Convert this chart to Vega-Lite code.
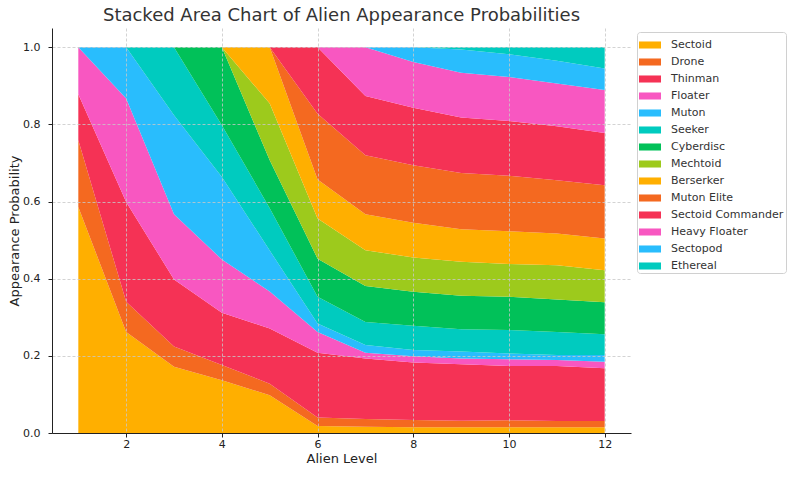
{
  "$schema": "https://vega.github.io/schema/vega-lite/v6.json",
  "width": 579,
  "height": 405,
  "autosize": {"type": "none"},
  "padding": {"left": 52, "top": 28, "right": 169, "bottom": 44},
  "background": "white",
  "config": {"font": "DejaVu Sans", "view": {"stroke": null}},
  "title": {
    "text": "Stacked Area Chart of Alien Appearance Probabilities",
    "fontSize": 18,
    "fontWeight": "normal",
    "font": "DejaVu Sans",
    "color": "#333333",
    "anchor": "middle",
    "offset": 3
  },
  "datasets": {
    "wide": [
      {"level": 1, "Sectoid": 0.586, "Drone": 0.173, "Thinman": 0.119, "Floater": 0.122, "Muton": 0, "Seeker": 0, "Cyberdisc": 0, "Mechtoid": 0, "Berserker": 0, "Muton Elite": 0, "Sectoid Commander": 0, "Heavy Floater": 0, "Sectopod": 0, "Ethereal": 0},
      {"level": 2, "Sectoid": 0.262, "Drone": 0.078, "Thinman": 0.259, "Floater": 0.268, "Muton": 0.133, "Seeker": 0, "Cyberdisc": 0, "Mechtoid": 0, "Berserker": 0, "Muton Elite": 0, "Sectoid Commander": 0, "Heavy Floater": 0, "Sectopod": 0, "Ethereal": 0},
      {"level": 3, "Sectoid": 0.172, "Drone": 0.052, "Thinman": 0.174, "Floater": 0.169, "Muton": 0.257, "Seeker": 0.176, "Cyberdisc": 0, "Mechtoid": 0, "Berserker": 0, "Muton Elite": 0, "Sectoid Commander": 0, "Heavy Floater": 0, "Sectopod": 0, "Ethereal": 0},
      {"level": 4, "Sectoid": 0.137, "Drone": 0.039, "Thinman": 0.136, "Floater": 0.138, "Muton": 0.214, "Seeker": 0.134, "Cyberdisc": 0.202, "Mechtoid": 0, "Berserker": 0, "Muton Elite": 0, "Sectoid Commander": 0, "Heavy Floater": 0, "Sectopod": 0, "Ethereal": 0},
      {"level": 5, "Sectoid": 0.098, "Drone": 0.030, "Thinman": 0.143, "Floater": 0.096, "Muton": 0.106, "Seeker": 0.110, "Cyberdisc": 0.124, "Mechtoid": 0.147, "Berserker": 0.146, "Muton Elite": 0, "Sectoid Commander": 0, "Heavy Floater": 0, "Sectopod": 0, "Ethereal": 0},
      {"level": 6, "Sectoid": 0.018, "Drone": 0.022, "Thinman": 0.168, "Floater": 0.054, "Muton": 0.022, "Seeker": 0.069, "Cyberdisc": 0.099, "Mechtoid": 0.104, "Berserker": 0.101, "Muton Elite": 0.171, "Sectoid Commander": 0.172, "Heavy Floater": 0, "Sectopod": 0, "Ethereal": 0},
      {"level": 7, "Sectoid": 0.016, "Drone": 0.020, "Thinman": 0.157, "Floater": 0.015, "Muton": 0.020, "Seeker": 0.060, "Cyberdisc": 0.093, "Mechtoid": 0.093, "Berserker": 0.093, "Muton Elite": 0.153, "Sectoid Commander": 0.154, "Heavy Floater": 0.126, "Sectopod": 0, "Ethereal": 0},
      {"level": 8, "Sectoid": 0.015, "Drone": 0.019, "Thinman": 0.149, "Floater": 0.016, "Muton": 0.016, "Seeker": 0.063, "Cyberdisc": 0.088, "Mechtoid": 0.089, "Berserker": 0.090, "Muton Elite": 0.149, "Sectoid Commander": 0.149, "Heavy Floater": 0.119, "Sectopod": 0.038, "Ethereal": 0},
      {"level": 9, "Sectoid": 0.015, "Drone": 0.017, "Thinman": 0.146, "Floater": 0.015, "Muton": 0.018, "Seeker": 0.058, "Cyberdisc": 0.087, "Mechtoid": 0.088, "Berserker": 0.084, "Muton Elite": 0.146, "Sectoid Commander": 0.144, "Heavy Floater": 0.116, "Sectopod": 0.060, "Ethereal": 0.006},
      {"level": 10, "Sectoid": 0.015, "Drone": 0.018, "Thinman": 0.141, "Floater": 0.017, "Muton": 0.015, "Seeker": 0.061, "Cyberdisc": 0.086, "Mechtoid": 0.085, "Berserker": 0.085, "Muton Elite": 0.144, "Sectoid Commander": 0.142, "Heavy Floater": 0.114, "Sectopod": 0.059, "Ethereal": 0.018},
      {"level": 11, "Sectoid": 0.015, "Drone": 0.016, "Thinman": 0.143, "Floater": 0.015, "Muton": 0.013, "Seeker": 0.060, "Cyberdisc": 0.084, "Mechtoid": 0.089, "Berserker": 0.082, "Muton Elite": 0.138, "Sectoid Commander": 0.140, "Heavy Floater": 0.111, "Sectopod": 0.059, "Ethereal": 0.035},
      {"level": 12, "Sectoid": 0.015, "Drone": 0.016, "Thinman": 0.137, "Floater": 0.017, "Muton": 0.017, "Seeker": 0.054, "Cyberdisc": 0.083, "Mechtoid": 0.083, "Berserker": 0.082, "Muton Elite": 0.138, "Sectoid Commander": 0.136, "Heavy Floater": 0.111, "Sectopod": 0.056, "Ethereal": 0.055}
    ],
    "stackorder": [
      {"alien": "Sectoid", "k": 1},
      {"alien": "Drone", "k": 2},
      {"alien": "Thinman", "k": 3},
      {"alien": "Floater", "k": 4},
      {"alien": "Muton", "k": 5},
      {"alien": "Seeker", "k": 6},
      {"alien": "Cyberdisc", "k": 7},
      {"alien": "Mechtoid", "k": 8},
      {"alien": "Berserker", "k": 9},
      {"alien": "Muton Elite", "k": 10},
      {"alien": "Sectoid Commander", "k": 11},
      {"alien": "Heavy Floater", "k": 12},
      {"alien": "Sectopod", "k": 13},
      {"alien": "Ethereal", "k": 14}
    ]
  },
  "data": {"name": "wide"},
  "transform": [
    {"fold": ["Sectoid", "Drone", "Thinman", "Floater", "Muton", "Seeker", "Cyberdisc", "Mechtoid", "Berserker", "Muton Elite", "Sectoid Commander", "Heavy Floater", "Sectopod", "Ethereal"], "as": ["alien", "p"]},
    {"lookup": "alien", "from": {"data": {"name": "stackorder"}, "key": "alien", "fields": ["k"]}}
  ],
  "mark": {"type": "area", "interpolate": "linear"},
  "encoding": {
    "x": {
      "field": "level",
      "type": "quantitative",
      "scale": {"domain": [0.45, 12.55], "nice": false, "zero": false},
      "axis": {
        "title": "Alien Level",
        "values": [2, 4, 6, 8, 10, 12],
        "format": "d",
        "labelFontSize": 11,
        "titleFontSize": 13,
        "titleFontWeight": "normal",
        "labelColor": "#222222",
        "titleColor": "#222222",
        "tickSize": 4,
        "tickColor": "#222222",
        "domainColor": "#222222",
        "labelPadding": 1,
        "titlePadding": 3,
        "grid": true,
        "gridColor": "#c8c8c8",
        "gridDash": [3, 2],
        "gridWidth": 0.8,
        "zindex": 1
      }
    },
    "y": {
      "field": "p",
      "type": "quantitative",
      "stack": "zero",
      "scale": {"domain": [0, 1.05], "nice": false},
      "axis": {
        "title": "Appearance Probability",
        "values": [0, 0.2, 0.4, 0.6, 0.8, 1.0],
        "format": ".1f",
        "labelFontSize": 11,
        "titleFontSize": 13,
        "titleFontWeight": "normal",
        "labelColor": "#222222",
        "titleColor": "#222222",
        "tickSize": 4,
        "tickColor": "#222222",
        "domainColor": "#222222",
        "labelPadding": 8,
        "titlePadding": 1,
        "grid": true,
        "gridColor": "#c8c8c8",
        "gridDash": [3, 2],
        "gridWidth": 0.8,
        "zindex": 1
      }
    },
    "color": {
      "field": "alien",
      "type": "nominal",
      "scale": {
        "domain": ["Sectoid", "Drone", "Thinman", "Floater", "Muton", "Seeker", "Cyberdisc", "Mechtoid", "Berserker", "Muton Elite", "Sectoid Commander", "Heavy Floater", "Sectopod", "Ethereal"],
        "range": ["#FFAF00", "#F46920", "#F53255", "#F857C1", "#29BDFD", "#00CBBF", "#01C159", "#9DCA1C", "#FFAF00", "#F46920", "#F53255", "#F857C1", "#29BDFD", "#00CBBF"]
      },
      "legend": {
        "orient": "none",
        "legendX": 585,
        "legendY": 4,
        "title": null,
        "labelFontSize": 11,
        "labelColor": "#333333",
        "symbolType": "M-1,-0.32H1V0.32H-1Z",
        "symbolSize": 484,
        "symbolStrokeWidth": 0,
        "symbolOpacity": 1,
        "rowPadding": 1,
        "padding": 2,
        "labelOffset": 10,
        "strokeColor": "#d0d0d0",
        "fillColor": "white",
        "cornerRadius": 3
      }
    },
    "order": {"field": "k", "type": "quantitative"}
  }
}
